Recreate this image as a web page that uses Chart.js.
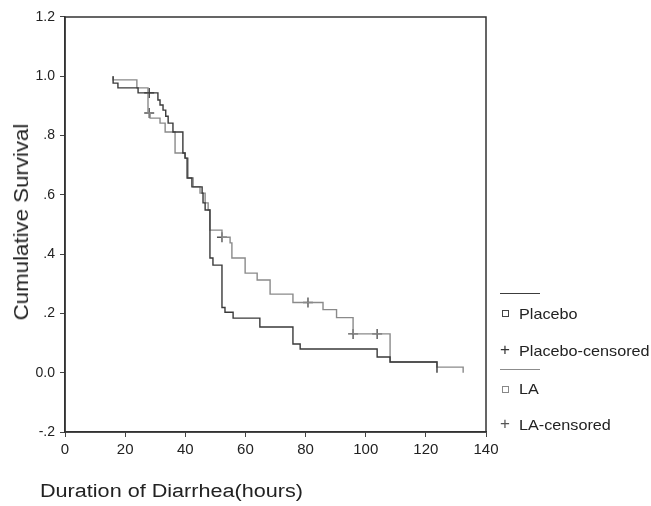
<!DOCTYPE html>
<html>
<head>
<meta charset="utf-8">
<script src="https://cdn.jsdelivr.net/npm/chart.js@4.4.1/dist/chart.umd.min.js"></script>
<style>
  html, body { margin: 0; padding: 0; background: #fff; }
  #wrap { position: relative; width: 651px; height: 506px; overflow: hidden; font-family: "Liberation Sans", Arial, sans-serif; color: #222; }
  #c { position: absolute; left: 0; top: 0; }
  .ytitle { position: absolute; left: 21px; top: 222px; transform: translate(-50%, -50%) rotate(-90deg) scaleX(1.06); font-size: 21px; white-space: nowrap; }
  .xtitle { position: absolute; left: 40px; top: 481px; font-size: 18px; white-space: nowrap; transform-origin: 0 50%; transform: scaleX(1.2); }
  .leg { position: absolute; font-size: 15px; white-space: nowrap; transform-origin: 0 50%; transform: scaleX(1.08); }
  .legline { position: absolute; height: 0; width: 40px; }
  .sq { position: absolute; width: 5px; height: 5px; border: 1px solid #555; }
  .plus { position: absolute; font-size: 17px; line-height: 17px; }
</style>
</head>
<body>
<div id="wrap">
  <canvas id="c" width="651" height="506"></canvas>
  <div class="ytitle">Cumulative Survival</div>
  <div class="xtitle">Duration of Diarrhea(hours)</div>

  <div class="legline" style="left:500px; top:293px; border-top:1.5px solid #3c3c3c;"></div>
  <div class="sq" style="left:502px; top:310px; border-color:#444;"></div>
  <div class="leg" style="left:519px; top:305px;">Placebo</div>
  <div class="plus" style="left:500px; top:341px; color:#333;">+</div>
  <div class="leg" style="left:519px; top:342px;">Placebo-censored</div>

  <div class="legline" style="left:500px; top:369px; border-top:1.5px solid #8c8c8c;"></div>
  <div class="sq" style="left:502px; top:386px; border-color:#888;"></div>
  <div class="leg" style="left:519px; top:380px;">LA</div>
  <div class="plus" style="left:500px; top:415px; color:#555;">+</div>
  <div class="leg" style="left:519px; top:416px;">LA-censored</div>
</div>
<script>
// ---- data ----
const xTickValues = [0, 20, 40, 60, 80, 100, 120, 140];
const yTickLabels = ["-.2", "0.0", ".2", ".4", ".6", ".8", "1.0", "1.2"];

const placeboTimes = [16, 16, 17.6, 24.3, 30.9, 31.6, 32.6, 33.5, 34.3, 35.9, 39.2, 39.9, 40.6, 42.2, 45.6, 45.9, 46.6, 48.2, 49.2, 52.2, 53.2, 55.9, 64.8, 75.8, 78.2, 103.8, 108.1, 123.7];
const placeboSurv  = [1.0, 0.977, 0.961, 0.944, 0.920, 0.903, 0.886, 0.865, 0.842, 0.812, 0.741, 0.724, 0.657, 0.627, 0.606, 0.573, 0.549, 0.387, 0.363, 0.220, 0.204, 0.184, 0.154, 0.097, 0.080, 0.053, 0.036, 0.0];

const laTimes = [16, 16, 23.9, 27.6, 28.3, 31.6, 33.3, 36.6, 40.0, 40.9, 42.6, 44.9, 46.6, 47.6, 48.2, 52.2, 54.9, 55.5, 59.9, 63.9, 68.2, 75.8, 85.8, 90.3, 95.8, 108.1, 123.7, 132.4];
const laSurv  = [1.0, 0.988, 0.961, 0.876, 0.859, 0.842, 0.812, 0.741, 0.724, 0.657, 0.627, 0.606, 0.573, 0.549, 0.481, 0.457, 0.438, 0.387, 0.336, 0.313, 0.265, 0.237, 0.213, 0.186, 0.131, 0.036, 0.019, 0.0];

const placeboCensorX = [28];
const placeboCensorY = [0.944];
const laCensorX = [28, 52.2, 80.8, 95.8, 103.8];
const laCensorY = [0.876, 0.457, 0.237, 0.131, 0.131];

function pts(xs, ys) { return xs.map((x, i) => ({ x: x, y: ys[i] })); }

const darkCol = '#3a3a3a';
const lightCol = '#8a8a8a';

const framePlugin = {
  id: 'frame',
  afterDraw(chart) {
    const a = chart.chartArea, ctx = chart.ctx;
    ctx.save();
    ctx.strokeStyle = '#333';
    ctx.lineWidth = 1.5;
    ctx.strokeRect(a.left, a.top, a.right - a.left, a.bottom - a.top);
    ctx.restore();
  }
};

new Chart(document.getElementById('c'), {
  type: 'scatter',
  data: {
    datasets: [
      { label: 'Placebo', data: pts(placeboTimes, placeboSurv), showLine: true, stepped: 'before',
        borderColor: darkCol, borderWidth: 1.4, pointRadius: 0, fill: false },
      { label: 'LA', data: pts(laTimes, laSurv), showLine: true, stepped: 'before',
        borderColor: lightCol, borderWidth: 1.4, pointRadius: 0, fill: false },
      { label: 'Placebo-censored', data: pts(placeboCensorX, placeboCensorY), showLine: false,
        pointStyle: 'cross', pointRadius: 5, borderColor: darkCol, borderWidth: 1.4 },
      { label: 'LA-censored', data: pts(laCensorX, laCensorY), showLine: false,
        pointStyle: 'cross', pointRadius: 5, borderColor: '#555', borderWidth: 1.4 }
    ]
  },
  options: {
    responsive: false,
    animation: false,
    layout: { padding: { top: 17, right: 165, left: 0, bottom: 0 } },
    plugins: { legend: { display: false }, tooltip: { enabled: false } },
    scales: {
      x: {
        type: 'linear', min: 0, max: 140,
        afterFit(s) { s.height = 74; },
        afterBuildTicks(s) { s.ticks = xTickValues.map(v => ({ value: v })); },
        grid: { drawOnChartArea: false, drawTicks: true, tickLength: 5, color: '#444' },
        border: { color: '#333', width: 1.5 },
        ticks: { color: '#222', font: { family: 'Liberation Sans', size: 15 }, padding: 4, maxRotation: 0 }
      },
      y: {
        type: 'linear', min: -0.2, max: 1.2,
        afterFit(s) { s.width = 65; },
        afterBuildTicks(s) { s.ticks = yTickLabels.map((t, i) => ({ value: -0.2 + 0.2 * i })); },
        grid: { drawOnChartArea: false, drawTicks: true, tickLength: 5, color: '#444' },
        border: { color: '#333', width: 1.5 },
        ticks: { color: '#222', font: { family: 'Liberation Sans', size: 14 }, padding: 5,
          callback: (v, i) => yTickLabels[i] }
      }
    }
  },
  plugins: [framePlugin]
});
</script>
</body>
</html>
